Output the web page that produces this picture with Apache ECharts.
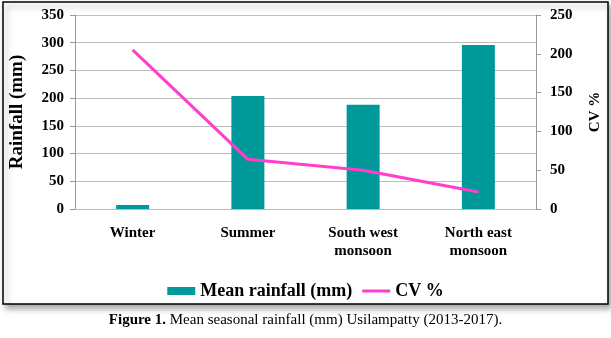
<!DOCTYPE html>
<html><head><meta charset="utf-8">
<script src="https://cdn.jsdelivr.net/npm/echarts@6/dist/echarts.min.js"></script>
<style>html,body{margin:0;padding:0;background:#fff;}#c{width:611px;height:338px;}</style>
</head><body><div id="c"></div>
<script>
var categories = ['Winter', 'Summer', 'South west\nmonsoon', 'North east\nmonsoon'];
var meanRainfall = [7, 204, 188, 296];
var cvPercent = [205, 64, 50, 22];
var leftTicks = [0, 50, 100, 150, 200, 250, 300, 350];
var rightTicks = [0, 50, 100, 150, 200, 250];

var serif = '"Liberation Serif", "Times New Roman", serif';
var chart = echarts.init(document.getElementById('c'), null, {renderer: 'canvas'});
chart.setOption({
  animation: false,
  backgroundColor: '#fff',
  graphic: [
    {type: 'rect', z: -10, shape: {x: 3, y: 2, width: 605, height: 302},
     style: {fill: '#fff', stroke: '#000', lineWidth: 1.5, shadowBlur: 6, shadowOffsetX: 3, shadowOffsetY: 4, shadowColor: 'rgba(0,0,0,0.35)'}},
    {type: 'text', left: 'center', top: 313,
     style: {text: '{b|Figure 1.} Mean seasonal rainfall (mm) Usilampatty (2013-2017).', font: '15px ' + serif, fill: '#000',
       rich: {b: {fontWeight: 'bold', fontSize: 15, fontFamily: serif}}}}
  ],
  legend: {
    bottom: 33, left: 'center', itemGap: 10,
    textStyle: {fontFamily: serif, fontWeight: 'bold', fontSize: 18, color: '#000'},
    data: [
      {name: 'Mean rainfall (mm)', icon: 'rect'},
      {name: 'CV %', icon: 'path://M0,0 L28,0 L28,3 L0,3 Z'}
    ],
    itemWidth: 28, itemHeight: 8
  },
  grid: {left: 72, right: 72, top: 15, bottom: 129},
  xAxis: {
    type: 'category', data: categories,
    axisLine: {lineStyle: {color: '#bbb'}},
    axisTick: {show: false},
    axisLabel: {fontFamily: serif, fontWeight: 'bold', fontSize: 15, color: '#000', margin: 15, lineHeight: 18}
  },
  yAxis: [
    {type: 'value', min: 0, max: 350, interval: 50, position: 'left',
     name: 'Rainfall (mm)', nameLocation: 'middle', nameGap: 48, nameRotate: 90,
     nameTextStyle: {fontFamily: serif, fontWeight: 'bold', fontSize: 19, color: '#000'},
     axisLine: {show: true, lineStyle: {color: '#999'}},
     axisTick: {show: true, inside: false, length: 5, lineStyle: {color: '#999'}},
     axisLabel: {fontFamily: serif, fontWeight: 'bold', fontSize: 15, color: '#000', margin: 11,
       formatter: function(v){ return leftTicks.indexOf(v) >= 0 ? String(v) : ''; }},
     splitLine: {show: true, lineStyle: {color: '#bdbdbd'}}},
    {type: 'value', min: 0, max: 250, interval: 50, position: 'right',
     name: 'CV %', nameLocation: 'middle', nameGap: 52, nameRotate: 90,
     nameTextStyle: {fontFamily: serif, fontWeight: 'bold', fontSize: 15, color: '#000'},
     axisLine: {show: true, lineStyle: {color: '#999'}},
     axisTick: {show: true, inside: false, length: 5, lineStyle: {color: '#999'}},
     axisLabel: {fontFamily: serif, fontWeight: 'bold', fontSize: 15, color: '#000', margin: 14,
       formatter: function(v){ return rightTicks.indexOf(v) >= 0 ? String(v) : ''; }},
     splitLine: {show: false}}
  ],
  series: [
    {name: 'Mean rainfall (mm)', type: 'bar', data: meanRainfall, yAxisIndex: 0, barWidth: 33,
     itemStyle: {color: '#009999'}},
    {name: 'CV %', type: 'line', data: cvPercent, yAxisIndex: 1, symbol: 'none', showSymbol: false,
     lineStyle: {color: '#ff3ecb', width: 3}, itemStyle: {color: '#ff3ecb'}}
  ]
});
</script></body></html>
